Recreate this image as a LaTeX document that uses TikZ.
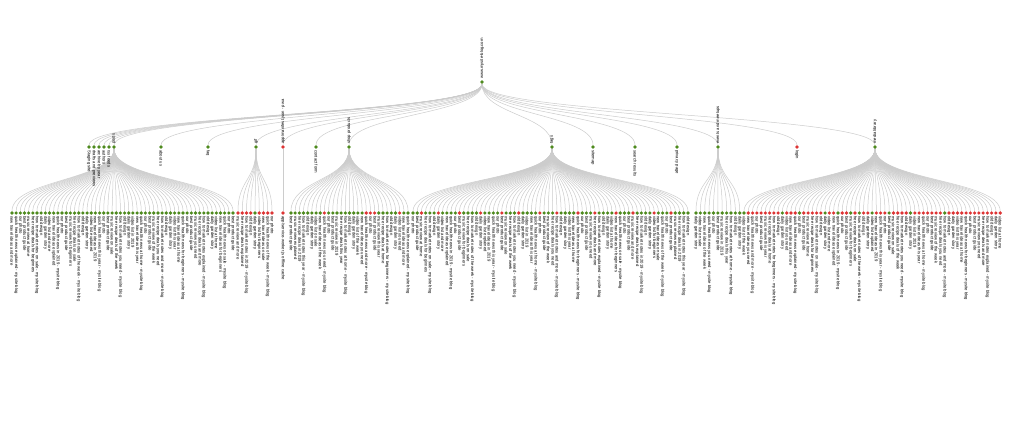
\documentclass[tikz,border=0pt]{standalone}
\usepackage{fontspec}
\setmainfont{Liberation Sans}
\definecolor{okgreen}{HTML}{4E8A1E}
\definecolor{errred}{HTML}{DD3535}
\pgfdeclarelayer{back}
\pgfsetlayers{back,main}

% word pools for the page titles
\newcommand\wordA[1]{\ifcase#1 new\or best\or how to\or top\or our\or free\or daily\or quick\or full\or old\fi}
\newcommand\wordB[1]{\ifcase#1 product\or travel\or design\or music\or health\or garden\or recipe\or photo\or video\or market\fi}
\newcommand\wordC[1]{\ifcase#1 review\or guide\or tips\or news\or ideas\or list\or story\or update\or notes\or deals\fi}
\newcommand\wordD[1]{\ifcase#1 for beginners\or of the week\or and more\or in 2019\or at home\or on sale\or you need\or explained\or this year\fi}
\newcommand\leafname[1]{%
  \pgfmathtruncatemacro\wa{mod((#1)*7,10)}%
  \pgfmathtruncatemacro\wb{mod((#1)*3+1,10)}%
  \pgfmathtruncatemacro\wc{mod((#1)*9+4,10)}%
  \pgfmathtruncatemacro\wd{mod((#1)*5+2,9)}%
  \pgfmathtruncatemacro\wl{mod((#1)*11+3,5)}%
  \ifcase\wl \wordA{\wa} \wordB{\wb}%
  \or \wordA{\wa} \wordB{\wb} \wordC{\wc}%
  \or \wordB{\wb} \wordC{\wc} \wordD{\wd}%
  \or \wordA{\wa} \wordB{\wb} \wordC{\wc} \wordD{\wd}%
  \or \wordA{\wa} \wordB{\wb} \wordC{\wc} \wordD{\wd} - mysite blog\fi}

\begin{document}
\begin{tikzpicture}[x=1pt,y=-1pt,
  edge/.style={draw=black!20,line width=0.5pt},
  dotg/.style={circle,fill=okgreen,inner sep=0pt,minimum size=3.6pt},
  dotr/.style={dotg,fill=errred},
  lbl/.style={font=\fontsize{4.2}{4.6}\selectfont,text=black,inner sep=1pt},
  lbldown/.style={lbl,rotate=-90,anchor=west},
  lblup/.style={lbl,rotate=90,anchor=west}]
\begin{pgfonlayer}{back}
\fill[white] (0,0) rectangle (1024,425);
\end{pgfonlayer}
\useasboundingbox (0,0) rectangle (1024,425);
\coordinate (mid1) at (0,114.5);
\coordinate (mid2) at (0,180);

% root
\node[dotg] (root) at (482,82) {};
\node[lblup] at (root.north) {www.mysite-blog.com};

% first level
\node[dotg] (staging) at (89,147) {};
\node[dotg] (drafts) at (94,147) {};
\node[dotg] (archive) at (99,147) {};
\node[dotg] (authors) at (104,147) {};
\node[dotg] (feeds) at (109,147) {};
\node[dotg] (posts) at (114,147) {};
\node[dotg] (about) at (161,147) {};
\node[dotg] (faq) at (208,147) {};
\node[dotg] (gif) at (256,147) {};
\node[dotr] (pwa) at (283,147) {};
\node[dotg] (contact) at (316,147) {};
\node[dotg] (shop) at (349,147) {};
\node[dotg] (tags) at (552,147) {};
\node[dotg] (sitemap) at (593,147) {};
\node[dotg] (search) at (635,147) {};
\node[dotg] (privacy) at (677,147) {};
\node[dotg] (events) at (718,147) {};
\node[dotr] (login) at (797,147) {};
\node[dotg] (media) at (875,147) {};

\node[lbldown] at (staging.south) {Staging site};
\node[lbldown] at (drafts.south) {drafts and previews};
\node[lbldown] at (archive.south) {archive by year};
\node[lbldown] at (authors.south) {authors};
\node[lbldown] at (feeds.south) {rss feeds};
\node[lblup] at (posts.north) {posts};
\node[lbldown] at (about.south) {about us};
\node[lbldown] at (faq.south) {faq};
\node[lblup] at (gif.north) {gif};
\node[lblup] at (pwa.north) {app/manifest.json - pwa};
\node[lbldown] at (contact.south) {contact form};
\node[lblup] at (shop.north) {shop products};
\node[lblup] at (tags.north) {tags};
\node[lbldown] at (sitemap.south) {sitemap};
\node[lbldown] at (search.south) {search results};
\node[lbldown] at (privacy.south) {privacy page};
\node[lblup] at (events.north) {events and meetups};
\node[lbldown] at (login.south) {login};
\node[lblup] at (media.north) {media library};

\begin{pgfonlayer}{back}
\foreach \n in {staging,drafts,archive,authors,feeds,posts,about,faq,gif,pwa,
  contact,shop,tags,sitemap,search,privacy,events,login,media}
  \draw[edge] (root) .. controls (root |- mid1) and (\n |- mid1) .. (\n);
\end{pgfonlayer}

% single child of the app node
\node[dotr] (pwa0) at (283,213) {};
\draw[edge] (pwa) -- (pwa0);
\node[lbldown] at (pwa0.south) {app/service-worker.js offline cache};

% posts
\foreach \c [count=\i from 0] in {g,g,g,g,g,g,g,g,g,g,g,g,g,g,g,g,g,g,g,g,g,g,g,g,g,g,g,
  g,g,g,g,g,g,g,g,g,g,g,g,g,g,g,g,g,g,g,g,g,g,g,g,g,g,g} {
  \pgfmathsetmacro\lx{12+4.17*\i}
  \node[dot\c] (a\i) at (\lx,213) {};
  \begin{pgfonlayer}{back}
  \draw[edge] (posts) .. controls (posts |- mid2) and (a\i |- mid2) .. (a\i);
  \end{pgfonlayer}
  \node[lbldown] at (a\i.south) {\leafname{\i}};
}

% gif
\foreach \c [count=\i from 0] in {r,r,r,r,g,r,r,r,r} {
  \pgfmathsetmacro\lx{238+4.25*\i}
  \node[dot\c] (b\i) at (\lx,213) {};
  \begin{pgfonlayer}{back}
  \draw[edge] (gif) .. controls (gif |- mid2) and (b\i |- mid2) .. (b\i);
  \end{pgfonlayer}
  \node[lbldown] at (b\i.south) {\leafname{\i+54}};
}

% shop
\foreach \c [count=\i from 0] in {g,g,g,g,g,g,g,g,r,g,g,g,g,g,g,g,g,g,r,r,r,g,g,g,g,g,r,g,g} {
  \pgfmathsetmacro\lx{291+4.18*\i}
  \node[dot\c] (c\i) at (\lx,213) {};
  \begin{pgfonlayer}{back}
  \draw[edge] (shop) .. controls (shop |- mid2) and (c\i |- mid2) .. (c\i);
  \end{pgfonlayer}
  \node[lbldown] at (c\i.south) {\leafname{\i+63}};
}

% tags
\foreach \c [count=\i from 0] in {g,g,r,g,g,g,r,g,g,g,g,r,g,g,g,g,r,g,g,g,g,r,g,g,g,r,
  g,g,g,g,r,g,g,g,r,g,g,g,g,r,g,g,g,r,g,g,g,g,r,g,g,g,r,g,g,g,g,r,g,g,g,r,g,g,g,g} {
  \pgfmathsetmacro\lx{413+4.23*\i}
  \node[dot\c] (d\i) at (\lx,213) {};
  \begin{pgfonlayer}{back}
  \draw[edge] (tags) .. controls (tags |- mid2) and (d\i |- mid2) .. (d\i);
  \end{pgfonlayer}
  \node[lbldown] at (d\i.south) {\leafname{\i+92}};
}

% events
\foreach \c [count=\i from 0] in {g,g,g,g,g,g,g,g,g,g,g} {
  \pgfmathsetmacro\lx{696+4.37*\i}
  \node[dot\c] (e\i) at (\lx,213) {};
  \begin{pgfonlayer}{back}
  \draw[edge] (events) .. controls (events |- mid2) and (e\i |- mid2) .. (e\i);
  \end{pgfonlayer}
  \node[lbldown] at (e\i.south) {\leafname{\i+158}};
}

% media
\foreach \c [count=\i from 0] in {g,r,r,r,r,r,r,r,r,g,r,r,r,g,r,r,r,r,r,g,r,r,g,r,r,g,
  r,g,r,r,g,r,r,r,g,r,r,r,r,g,r,r,r,r,r,r,r,g,r,r,r,r,r,r,r,r,r,r,r,r,r} {
  \pgfmathsetmacro\lx{744+4.27*\i}
  \node[dot\c] (f\i) at (\lx,213) {};
  \begin{pgfonlayer}{back}
  \draw[edge] (media) .. controls (media |- mid2) and (f\i |- mid2) .. (f\i);
  \end{pgfonlayer}
  \node[lbldown] at (f\i.south) {\leafname{\i+169}};
}
\end{tikzpicture}
\end{document}
